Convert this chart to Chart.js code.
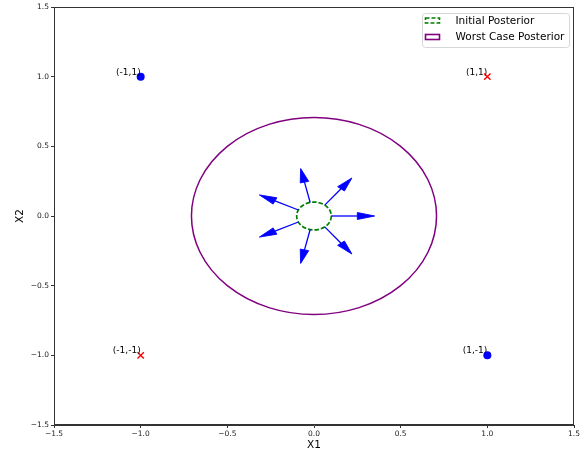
<!DOCTYPE html>
<html>
<head>
<meta charset="utf-8">
<script src="https://cdn.jsdelivr.net/npm/chart.js@4"></script>
<style>
  html, body { margin: 0; padding: 0; background: #fff; }
  #wrap { width: 587px; height: 455px; }
</style>
</head>
<body>
<div id="wrap"><canvas id="c" width="587" height="455"></canvas></div>
<script>
// Axis ticks (both axes share the same range)
const TICKS = [-1.5, -1.0, -0.5, 0.0, 0.5, 1.0, 1.5];

// Corner points
const BLUE_X = [-1, 1];
const BLUE_Y = [1, -1];
const RED_X = [1, -1];
const RED_Y = [1, -1];
const POINT_LABEL_X = [-1, 1, -1, 1];
const POINT_LABEL_Y = [1, 1, -1, -1];
const POINT_LABELS = ['(-1,1)', '(1,1)', '(-1,-1)', '(1,-1)'];

// Posterior circles (centre + radius in data units)
const CIRCLE_NAMES = ['Initial Posterior', 'Worst Case Posterior'];
const CIRCLE_CX = [0, 0];
const CIRCLE_CY = [0, 0];
const CIRCLE_R = [0.1, 0.707];

// Arrows: tail on the small circle, shaft vector (head added beyond it)
const ARROW_X0 = [0.100, 0.062, -0.022, -0.090, -0.090, -0.022, 0.062];
const ARROW_Y0 = [0.000, 0.078, 0.097, 0.043, -0.043, -0.097, -0.078];
const ARROW_DX = [0.150, 0.094, -0.033, -0.135, -0.135, -0.033, 0.094];
const ARROW_DY = [0.000, 0.117, 0.146, 0.065, -0.065, -0.146, -0.117];
const HEAD_WIDTH = 0.05;
const HEAD_LENGTH = 0.1;

const FONT = "'DejaVu Sans', sans-serif";
const INK = '#222';
const CIRCLE_STYLE = [
  { color: '#008000', width: 1.7, dash: [4.5, 2] },
  { color: '#800080', width: 1.5, dash: [] },
];

const fmt = v => v.toFixed(1).replace('-', '\u2212');

const overlay = {
  id: 'overlay',
  afterDatasetsDraw(chart) {
    const { ctx, chartArea: a, scales: { x, y } } = chart;
    ctx.save();
    ctx.beginPath();
    ctx.rect(a.left, a.top, a.right - a.left, a.bottom - a.top);
    ctx.clip();

    // circles (ellipses on screen, since x/y scales differ)
    CIRCLE_R.forEach((r, i) => {
      const cx = x.getPixelForValue(CIRCLE_CX[i]);
      const cy = y.getPixelForValue(CIRCLE_CY[i]);
      const rx = x.getPixelForValue(CIRCLE_CX[i] + r) - cx;
      const ry = cy - y.getPixelForValue(CIRCLE_CY[i] + r);
      const s = CIRCLE_STYLE[i];
      ctx.beginPath();
      ctx.ellipse(cx, cy, rx, ry, 0, 0, Math.PI * 2);
      ctx.strokeStyle = s.color;
      ctx.lineWidth = s.width;
      ctx.setLineDash(s.dash);
      ctx.stroke();
    });
    ctx.setLineDash([]);

    // arrows, built in data space like matplotlib's FancyArrow
    ARROW_X0.forEach((x0, i) => {
      const dx = ARROW_DX[i], dy = ARROW_DY[i];
      const len = Math.hypot(dx, dy);
      const ux = dx / len, uy = dy / len;
      const bx = x0 + dx, by = ARROW_Y0[i] + dy;
      const hw = HEAD_WIDTH / 2;
      const P = (vx, vy) => [x.getPixelForValue(vx), y.getPixelForValue(vy)];
      const tail = P(x0, ARROW_Y0[i]);
      const base = P(bx, by);
      const tip = P(bx + ux * HEAD_LENGTH, by + uy * HEAD_LENGTH);
      const l = P(bx - uy * hw, by + ux * hw);
      const r = P(bx + uy * hw, by - ux * hw);
      ctx.strokeStyle = '#0000ff';
      ctx.fillStyle = '#0000ff';
      ctx.lineWidth = 1.3;
      ctx.beginPath();
      ctx.moveTo(tail[0], tail[1]);
      ctx.lineTo(base[0], base[1]);
      ctx.stroke();
      ctx.lineWidth = 0.9;
      ctx.lineJoin = 'miter';
      ctx.beginPath();
      ctx.moveTo(l[0], l[1]);
      ctx.lineTo(tip[0], tip[1]);
      ctx.lineTo(r[0], r[1]);
      ctx.closePath();
      ctx.fill();
      ctx.stroke();
    });
    ctx.restore();

    // point labels
    ctx.save();
    ctx.font = '9px ' + FONT;
    ctx.fillStyle = '#000';
    ctx.textAlign = 'right';
    ctx.textBaseline = 'alphabetic';
    POINT_LABELS.forEach((t, i) => {
      ctx.fillText(t, x.getPixelForValue(POINT_LABEL_X[i]), y.getPixelForValue(POINT_LABEL_Y[i]) - 2);
    });

    // frame
    ctx.strokeStyle = '#333';
    ctx.lineWidth = 1;
    ctx.strokeRect(Math.round(a.left) + 0.5, Math.round(a.top) + 0.5,
      Math.round(a.right - a.left) - 1, Math.round(a.bottom - a.top) - 1);

    // legend
    const lx = 422, ly = 13, lw = 147, lh = 34;
    ctx.beginPath();
    ctx.roundRect(lx + 0.5, ly + 0.5, lw, lh, 3);
    ctx.fillStyle = 'rgba(255,255,255,0.85)';
    ctx.fill();
    ctx.strokeStyle = '#d6d6d6';
    ctx.stroke();
    ctx.font = '10.5px ' + FONT;
    ctx.textAlign = 'left';
    ctx.textBaseline = 'middle';
    CIRCLE_NAMES.forEach((name, i) => {
      const s = CIRCLE_STYLE[i];
      const cy = ly + 7.5 + i * 16.5;
      ctx.strokeStyle = s.color;
      ctx.lineWidth = 1.6;
      ctx.setLineDash(i === 0 ? [4, 2] : []);
      ctx.strokeRect(425.5, cy - 2.5, 14, 5);
      ctx.setLineDash([]);
      ctx.fillStyle = '#000';
      ctx.fillText(name, 455.5, cy + 0.5);
    });
    ctx.restore();
  }
};

function axis(title, isY) {
  return {
    type: 'linear',
    min: TICKS[0],
    max: TICKS[TICKS.length - 1],
    afterBuildTicks: s => { s.ticks = TICKS.map(v => ({ value: v })); },
    afterFit: s => { if (isY) s.width = 54; else s.height = 30; },
    grid: { drawOnChartArea: false, drawTicks: true, tickLength: 3, color: '#333' },
    border: { display: true, color: '#333' },
    ticks: {
      color: INK,
      font: { family: FONT, size: 7.5 },
      padding: 2,
      maxRotation: 0,
      autoSkip: false,
      callback: v => fmt(v),
    },
    title: {
      display: true,
      text: title,
      color: '#000',
      font: { family: FONT, size: 10.5 },
      padding: isY ? { top: 14 } : { bottom: 3 },
    },
  };
}

new Chart(document.getElementById('c'), {
  type: 'scatter',
  data: {
    datasets: [
      {
        label: 'blue',
        data: BLUE_X.map((v, i) => ({ x: v, y: BLUE_Y[i] })),
        pointStyle: 'circle',
        pointRadius: 4,
        backgroundColor: '#0000ff',
        borderColor: '#0000ff',
        borderWidth: 0,
      },
      {
        label: 'red',
        data: RED_X.map((v, i) => ({ x: v, y: RED_Y[i] })),
        pointStyle: 'crossRot',
        pointRadius: 4.5,
        borderColor: '#ff0000',
        borderWidth: 1.4,
      },
    ],
  },
  options: {
    responsive: false,
    animation: false,
    devicePixelRatio: 1,
    layout: { padding: { left: 0, right: 13, top: 7, bottom: 0 } },
    plugins: { legend: { display: false }, tooltip: { enabled: false } },
    scales: { x: axis('X1', false), y: axis('X2', true) },
  },
  plugins: [overlay],
});
</script>
</body>
</html>
